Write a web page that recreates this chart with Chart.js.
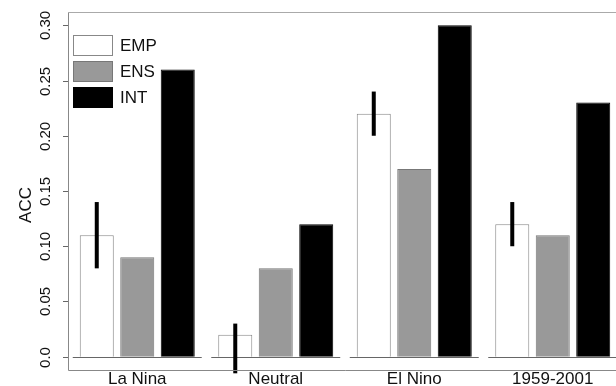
<!DOCTYPE html>
<html>
<head>
<meta charset="utf-8">
<script src="https://cdn.jsdelivr.net/npm/chart.js@4.4.1/dist/chart.umd.min.js"></script>
<style>
  html, body { margin: 0; padding: 0; background: #fff; overflow: hidden; }
  .wrap { width: 616px; height: 386px; overflow: hidden; }
  canvas { display: block; }
</style>
</head>
<body>
<div class="wrap"><canvas id="myChart" width="622" height="386"></canvas></div>
<script>
const categories = ['La Nina', 'Neutral', 'El Nino', '1959-2001'];
const empValues = [0.11, 0.02, 0.22, 0.12];
const ensValues = [0.09, 0.08, 0.17, 0.11];
const intValues = [0.26, 0.12, 0.30, 0.23];
const empLow = [0.08, -0.015, 0.20, 0.10];
const empHigh = [0.14, 0.03, 0.24, 0.14];
const yTicks = [0, 0.05, 0.1, 0.15, 0.2, 0.25, 0.3];
const yTickLabels = ['0.0', '0.05', '0.10', '0.15', '0.20', '0.25', '0.30'];

const FONT = '"Liberation Sans", Arial, sans-serif';

// axes, box, error bars, legend and labels drawn by hand (R style)
const decor = {
  id: 'decor',
  beforeDatasetsDraw(chart) {
    const ctx = chart.ctx;
    const y = chart.scales.y;
    ctx.save();
    // group baselines at zero
    const y0 = Math.round(y.getPixelForValue(0)) + 0.5;
    const first = chart.getDatasetMeta(0).data;
    const last = chart.getDatasetMeta(2).data;
    ctx.strokeStyle = '#666';
    ctx.lineWidth = 1;
    categories.forEach((c, i) => {
      const a = first[i].x - first[i].width / 2 - 7;
      const b = last[i].x + last[i].width / 2 + 7;
      ctx.beginPath();
      ctx.moveTo(a, y0);
      ctx.lineTo(b, y0);
      ctx.stroke();
    });
    ctx.restore();
  },
  afterDatasetsDraw(chart) {
    const ctx = chart.ctx;
    const area = chart.chartArea;
    const y = chart.scales.y;
    ctx.save();
    // error bars on EMP
    const emp = chart.getDatasetMeta(0).data;
    ctx.strokeStyle = '#000';
    ctx.lineWidth = 4;
    emp.forEach((bar, i) => {
      ctx.beginPath();
      ctx.moveTo(bar.x, y.getPixelForValue(empLow[i]));
      ctx.lineTo(bar.x, y.getPixelForValue(empHigh[i]));
      ctx.stroke();
    });

    // box
    ctx.lineWidth = 1;
    ctx.strokeStyle = '#888';
    ctx.beginPath();
    ctx.moveTo(area.left + 0.5, area.top + 0.5);
    ctx.lineTo(area.left + 0.5, area.bottom + 0.5);
    ctx.lineTo(area.right, area.bottom + 0.5);
    ctx.stroke();
    ctx.strokeStyle = '#aaa';
    ctx.beginPath();
    ctx.moveTo(area.left, area.top + 0.5);
    ctx.lineTo(area.right, area.top + 0.5);
    ctx.stroke();

    // y ticks and rotated labels
    ctx.strokeStyle = '#666';
    ctx.fillStyle = '#111';
    ctx.font = '15px ' + FONT;
    ctx.textAlign = 'center';
    ctx.textBaseline = 'middle';
    yTicks.forEach((v, i) => {
      const py = Math.round(y.getPixelForValue(v)) + 0.5;
      ctx.beginPath();
      ctx.moveTo(area.left - 5, py);
      ctx.lineTo(area.left, py);
      ctx.stroke();
      ctx.save();
      ctx.translate(area.left - 22, py);
      ctx.rotate(-Math.PI / 2);
      ctx.fillText(yTickLabels[i], 0, 0);
      ctx.restore();
    });
    // axis title
    ctx.save();
    ctx.translate(26, 205);
    ctx.rotate(-Math.PI / 2);
    ctx.font = '17px ' + FONT;
    ctx.fillText('ACC', 0, 0);
    ctx.restore();

    // category labels
    ctx.font = '17px ' + FONT;
    ctx.textBaseline = 'alphabetic';
    const ens = chart.getDatasetMeta(1).data;
    categories.forEach((c, i) => {
      ctx.fillText(c, ens[i].x, 384);
    });

    // legend
    const ds = chart.data.datasets;
    ctx.textAlign = 'left';
    ctx.textBaseline = 'middle';
    ctx.font = '17px ' + FONT;
    ds.forEach((d, i) => {
      const ly = 35 + i * 26;
      ctx.fillStyle = d.backgroundColor;
      ctx.fillRect(73, ly, 40, 21);
      ctx.strokeStyle = d.borderColor;
      ctx.lineWidth = 1;
      ctx.strokeRect(73.5, ly + 0.5, 39, 20);
      ctx.fillStyle = '#111';
      ctx.fillText(d.label, 120, ly + 11);
    });
    ctx.restore();
  },
};

const ctx = document.getElementById('myChart').getContext('2d');
window.myChart = new Chart(ctx, {
  type: 'bar',
  data: {
    labels: categories,
    datasets: [
      {
        label: 'EMP',
        data: empValues,
        backgroundColor: '#ffffff',
        borderColor: '#888888',
        borderWidth: 1,
      },
      {
        label: 'ENS',
        data: ensValues,
        backgroundColor: '#999999',
        borderColor: '#777777',
        borderWidth: 1,
      },
      {
        label: 'INT',
        data: intValues,
        backgroundColor: '#000000',
        borderColor: '#000000',
        borderWidth: 1,
      },
    ],
  },
  options: {
    responsive: false,
    animation: false,
    layout: { padding: { left: 68, top: 12, right: 0, bottom: 16 } },
    datasets: {
      bar: { categoryPercentage: 0.877, barPercentage: 0.84 },
    },
    plugins: {
      legend: { display: false },
      tooltip: { enabled: false },
    },
    scales: {
      x: { display: false },
      y: { display: false, min: -0.012, max: 0.312 },
    },
  },
  plugins: [decor],
});
</script>
</body>
</html>
